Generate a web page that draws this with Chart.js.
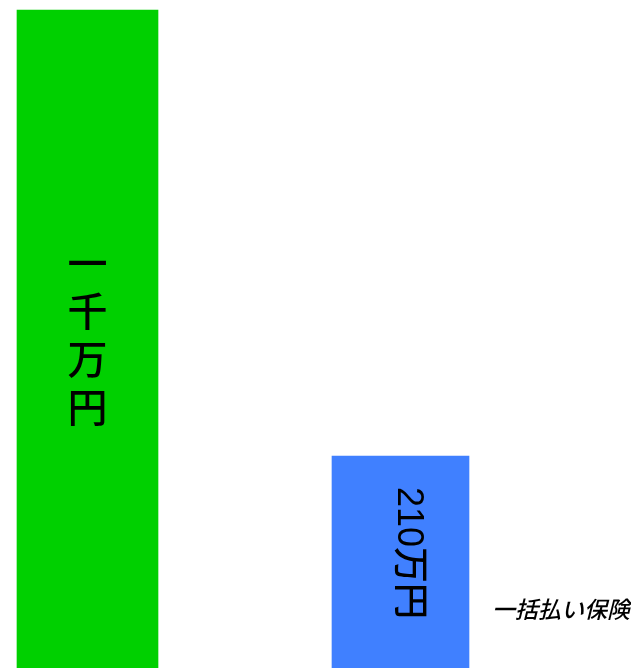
<!DOCTYPE html>
<html lang="ja">
<head>
<meta charset="UTF-8">
<title>一千万円 vs 210万円</title>
<script src="https://cdn.jsdelivr.net/npm/chart.js"></script>
<style>
  html, body { margin: 0; padding: 0; background: #fff; }
  #chart { display: block; }
</style>
</head>
<body>
<canvas id="chart" width="631" height="668"></canvas>
<script>
// data (bar heights relative to the tall bar)
const categories = ['一千万円', '210万円'];
const barHeights = [100, 32.2];
const barColors = ['#00d000', '#4080ff'];
const sideNote = '一括払い保険';

const fontFamily = '"Liberation Sans", "Noto Sans CJK JP", sans-serif';

// draws the texts on / next to the bars
const barLabels = {
  id: 'barLabels',
  afterDatasetsDraw(chart) {
    const ctx = chart.ctx;
    ctx.save();
    ctx.fillStyle = '#000';
    ctx.textAlign = 'center';
    ctx.textBaseline = 'middle';

    // tall bar: characters stacked top to bottom
    const big = chart.getDatasetMeta(0).data[0];
    const chars = Array.from(categories[0]);
    const step = 48;
    const midY = (big.y + big.base) / 2;
    ctx.font = '500 40px ' + fontFamily;
    chars.forEach((c, i) => {
      ctx.fillText(c, big.x, midY + (i - (chars.length - 1) / 2) * step);
    });

    // small bar: text turned 90 degrees
    const small = chart.getDatasetMeta(1).data[1];
    ctx.translate(small.x + 7, (small.y + small.base) / 2 - 9);
    ctx.rotate(Math.PI / 2);
    ctx.font = '500 36px ' + fontFamily;
    ctx.fillText(categories[1], 0, 0);
    ctx.restore();

    // note to the right of the small bar
    ctx.save();
    ctx.fillStyle = '#000';
    ctx.textAlign = 'left';
    ctx.textBaseline = 'middle';
    ctx.font = 'italic 500 23px ' + fontFamily;
    ctx.fillText(sideNote, small.x + small.width / 2 + 23, small.base - 56);
    ctx.restore();
  }
};

new Chart(document.getElementById('chart').getContext('2d'), {
  type: 'bar',
  data: {
    labels: categories,
    datasets: [
      {
        data: [barHeights[0], null],
        backgroundColor: barColors[0],
        barThickness: 141,
        clip: false
      },
      {
        data: [null, barHeights[1]],
        backgroundColor: barColors[1],
        barThickness: 137,
        clip: false
      }
    ]
  },
  options: {
    responsive: false,
    animation: false,
    devicePixelRatio: 1,
    grouped: false,
    layout: { padding: { left: 87.5, right: 230.5, top: 10, bottom: 0 } },
    scales: {
      x: { display: false, offset: false },
      y: { display: false, min: 0, max: 100 }
    },
    plugins: {
      legend: { display: false },
      tooltip: { enabled: false }
    }
  },
  plugins: [barLabels]
});
</script>
</body>
</html>
